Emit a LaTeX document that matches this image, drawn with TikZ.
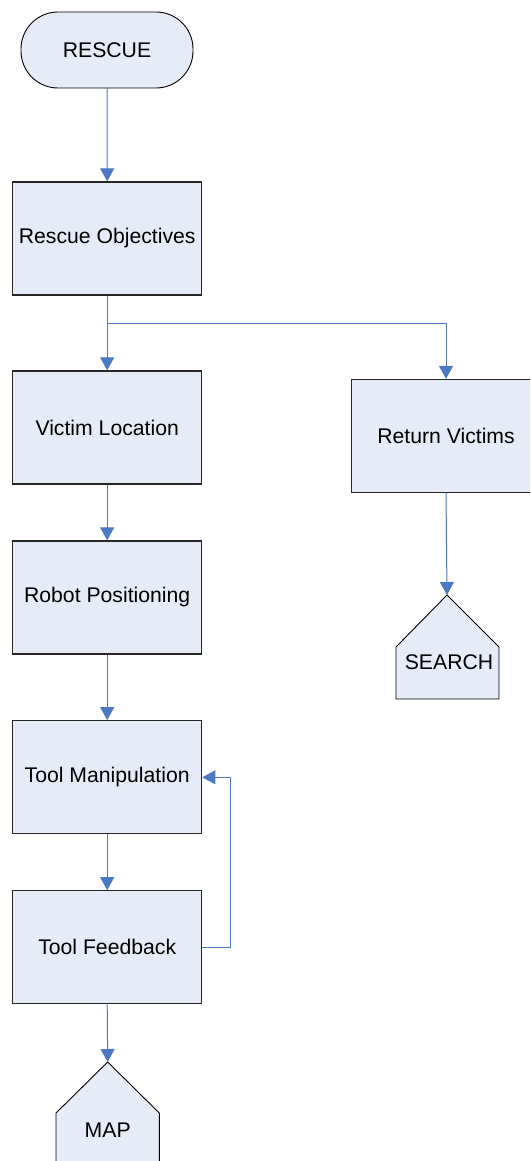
\documentclass[tikz,border=0pt]{standalone}
\usepackage{fontspec}
\setmainfont{Liberation Sans}
\usetikzlibrary{arrows.meta}

\definecolor{boxfill}{RGB}{230,236,247}
\definecolor{flowblue}{RGB}{76,120,196}

\begin{document}
\begin{tikzpicture}[x=1pt, y=-1pt,
    procbox/.style={draw=black!85, line width=1.3pt, fill=boxfill,
        minimum width=189pt, minimum height=113pt, inner sep=0pt,
        font=\fontsize{21.2}{25}\selectfont},
    termbox/.style={draw=black, line width=0.9pt, fill=boxfill,
        minimum width=172pt, minimum height=76pt, rounded corners=37pt,
        inner sep=0pt, font=\fontsize{21.2}{25}\selectfont},
    pagelabel/.style={inner sep=0pt, font=\fontsize{21.2}{25}\selectfont},
    pageshape/.style={draw=black, line width=0.9pt, fill=boxfill},
    flow/.style={draw=flowblue, line width=1pt},
    tip/.style={-{Triangle[length=13pt,width=14pt]}, flow}
]
    % Page frame
    \useasboundingbox (0,0) rectangle (530,1161);
    \clip (0,0) rectangle (530,1161);

    % Start
    \node[termbox] (rescue) at (107,50) {RESCUE};

    % Main column
    \node[procbox] (objectives)  at (107.2,238.5) {Rescue Objectives};
    \node[procbox] (victim)      at (107.2,427.5) {Victim Location};
    \node[procbox] (positioning) at (107.2,597.5) {Robot Positioning};
    \node[procbox] (manipulate)  at (107.2,777.3) {Tool Manipulation};
    \node[procbox] (feedback)    at (107.2,947.3) {Tool Feedback};

    % Side branch
    \node[procbox] (return) at (446,436) {Return Victims};

    % Off-page connectors
    \draw[pageshape] (447,595) -- (499,647) -- (499,699) -- (396,699) -- (396,647) -- cycle;
    \coordinate (searchtop) at (447,595);
    \node[pagelabel] (search) at (449,662.5) {SEARCH};

    \draw[pageshape] (107.7,1062) -- (159.3,1113) -- (159.3,1166) -- (56,1166) -- (56,1113) -- cycle;
    \coordinate (maptop) at (107.7,1062);
    \node[pagelabel] (map) at (107.7,1130) {MAP};

    % Connectors
    \coordinate (split) at (objectives.south |- 0,323.7);
    \draw[tip] (rescue.south) -- (objectives.north);
    \draw[flow] (objectives.south) -- (split);
    \draw[tip] (split) -- (victim.north);
    \draw[tip] (split) -| (return.north);
    \draw[tip] (return.south) -- (searchtop);
    \draw[tip] (victim.south) -- (positioning.north);
    \draw[tip] (positioning.south) -- (manipulate.north);
    \draw[tip] (manipulate.south) -- (feedback.north);
    \draw[tip] (feedback.east) -- ++(28,0) |- (manipulate.east);
    \draw[tip] (feedback.south) -- (maptop);
\end{tikzpicture}
\end{document}
